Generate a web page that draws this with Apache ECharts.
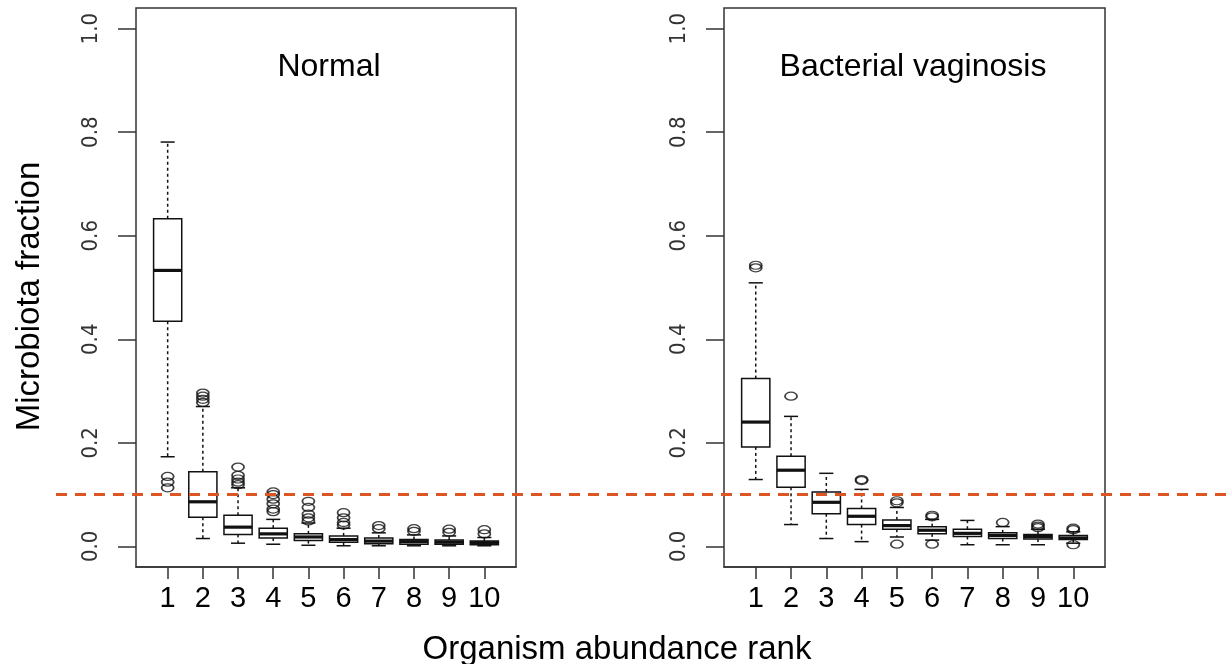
<!DOCTYPE html>
<html><head><meta charset="utf-8">
<script src="https://cdn.jsdelivr.net/npm/echarts@6/dist/echarts.min.js"></script>
<style>html,body{margin:0;padding:0;background:#fff}#c{width:1226px;height:664px}</style>
</head><body><div id="c"></div>
<script>
const ranks = [1, 2, 3, 4, 5, 6, 7, 8, 9, 10];
const yTicks = [0, 0.2, 0.4, 0.6, 0.8, 1.0];
const threshold = 0.1;

// Normal
const normalLow  = [0.173, 0.015, 0.006, 0.004, 0.002, 0.001, 0.001, 0.001, 0.001, 0.001];
const normalQ1   = [0.435, 0.056, 0.023, 0.016, 0.011, 0.008, 0.005, 0.004, 0.004, 0.003];
const normalMed  = [0.533, 0.086, 0.037, 0.024, 0.018, 0.013, 0.010, 0.009, 0.008, 0.007];
const normalQ3   = [0.633, 0.144, 0.060, 0.035, 0.024, 0.020, 0.016, 0.013, 0.012, 0.010];
const normalHigh = [0.781, 0.270, 0.113, 0.052, 0.045, 0.035, 0.026, 0.022, 0.020, 0.017];
const normalOutliers = [
  [1, 0.135], [1, 0.124], [1, 0.113],
  [2, 0.296], [2, 0.290], [2, 0.284], [2, 0.278],
  [3, 0.153], [3, 0.137], [3, 0.130], [3, 0.124], [3, 0.119],
  [4, 0.105], [4, 0.100], [4, 0.091], [4, 0.082], [4, 0.072], [4, 0.067],
  [5, 0.087], [5, 0.075], [5, 0.062], [5, 0.055], [5, 0.049],
  [6, 0.065], [6, 0.055], [6, 0.046], [6, 0.041],
  [7, 0.040], [7, 0.034],
  [8, 0.034], [8, 0.029],
  [9, 0.033], [9, 0.027],
  [10, 0.032], [10, 0.024]
];

// Bacterial vaginosis
const bvLow  = [0.129, 0.042, 0.015, 0.009, 0.018, 0.012, 0.003, 0.003, 0.003, 0.006];
const bvQ1   = [0.192, 0.114, 0.063, 0.042, 0.033, 0.024, 0.019, 0.015, 0.014, 0.013];
const bvMed  = [0.240, 0.147, 0.085, 0.058, 0.040, 0.031, 0.025, 0.021, 0.019, 0.016];
const bvQ3   = [0.324, 0.174, 0.105, 0.073, 0.051, 0.038, 0.033, 0.026, 0.023, 0.021];
const bvHigh = [0.509, 0.251, 0.141, 0.110, 0.075, 0.052, 0.050, 0.038, 0.033, 0.028];
const bvOutliers = [
  [1, 0.543], [1, 0.538],
  [2, 0.290],
  [4, 0.129], [4, 0.127],
  [5, 0.088], [5, 0.084], [5, 0.004],
  [6, 0.060], [6, 0.057], [6, 0.004],
  [8, 0.046],
  [9, 0.043], [9, 0.039], [9, 0.036],
  [10, 0.035], [10, 0.032], [10, 0.003]
];

const FONT = "'Liberation Sans', Arial, Helvetica, sans-serif";
const INK = '#111';

function boxData(lo, q1, med, q3, hi) {
  return ranks.map((r, i) => [r, lo[i], q1[i], med[i], q3[i], hi[i]]);
}

function renderBox(params, api) {
  const x = api.value(0);
  const pLow = api.coord([x, api.value(1)]);
  const pQ1 = api.coord([x, api.value(2)]);
  const pMed = api.coord([x, api.value(3)]);
  const pQ3 = api.coord([x, api.value(4)]);
  const pHigh = api.coord([x, api.value(5)]);
  const bw = api.size([0.8, 0])[0];
  const hw = bw / 2, cw = bw / 4;
  const cx = pMed[0];
  const thin = { stroke: INK, lineWidth: 1.5 };
  const dotted = { stroke: INK, lineWidth: 1.5, lineDash: [3, 3] };
  return {
    type: 'group',
    children: [
      { type: 'line', shape: { x1: cx, y1: pQ3[1], x2: cx, y2: pHigh[1] }, style: dotted },
      { type: 'line', shape: { x1: cx, y1: pQ1[1], x2: cx, y2: pLow[1] }, style: dotted },
      { type: 'line', shape: { x1: cx - cw, y1: pHigh[1], x2: cx + cw, y2: pHigh[1] }, style: thin },
      { type: 'line', shape: { x1: cx - cw, y1: pLow[1], x2: cx + cw, y2: pLow[1] }, style: thin },
      { type: 'rect', shape: { x: cx - hw, y: pQ3[1], width: bw, height: pQ1[1] - pQ3[1] },
        style: { fill: '#fff', stroke: INK, lineWidth: 1.5 } },
      { type: 'line', shape: { x1: cx - hw, y1: pMed[1], x2: cx + hw, y2: pMed[1] },
        style: { stroke: INK, lineWidth: 3.2 } }
    ]
  };
}

function xAxisCfg(idx) {
  return {
    type: 'value', gridIndex: idx, min: 0.1, max: 10.9, position: 'bottom',
    axisLine: { show: true, onZero: false, lineStyle: { color: '#333', width: 1.5 } },
    splitLine: { show: false },
    axisTick: { show: true, inside: false, customValues: ranks, length: 12, lineStyle: { color: '#333', width: 1.5 } },
    axisLabel: { show: true, customValues: ranks, margin: 17, fontSize: 29, color: '#000', fontFamily: FONT }
  };
}
function yAxisCfg(idx, name) {
  return {
    type: 'value', gridIndex: idx, min: -0.04, max: 1.04,
    name: name, nameLocation: 'middle', nameGap: 90, nameRotate: 90,
    nameTextStyle: { fontSize: 33, color: '#000', fontFamily: FONT, padding: [0, 18, 0, 0] },
    axisLine: { show: false, onZero: false },
    splitLine: { show: false },
    axisTick: { show: true, customValues: yTicks, length: 18, lineStyle: { color: '#333', width: 1.5 } },
    axisLabel: { show: true, customValues: yTicks, rotate: 90, margin: 34, fontSize: 22, color: '#333',
      fontFamily: "'Liberation Sans Narrow', 'DejaVu Sans Condensed', " + FONT,
      formatter: v => v.toFixed(1) }
  };
}

const chart = echarts.init(document.getElementById('c'));
chart.setOption({
  animation: false,
  backgroundColor: '#fff',
  title: [
    { text: 'Normal', left: 324, top: 46, textAlign: 'center',
      textStyle: { fontSize: 32, fontWeight: 'normal', color: '#000', fontFamily: FONT } },
    { text: 'Bacterial vaginosis', left: 908, top: 46, textAlign: 'center',
      textStyle: { fontSize: 32, fontWeight: 'normal', color: '#000', fontFamily: FONT } },
    { text: 'Organism abundance rank', left: 612, top: 628, textAlign: 'center',
      textStyle: { fontSize: 33, fontWeight: 'normal', color: '#000', fontFamily: FONT } }
  ],
  grid: [
    { left: 136, width: 380, top: 8, height: 559, show: true, borderColor: '#333', borderWidth: 1.5, backgroundColor: 'transparent' },
    { left: 724, width: 381, top: 8, height: 559, show: true, borderColor: '#333', borderWidth: 1.5, backgroundColor: 'transparent' },
    { left: 56, right: 0, top: 8, height: 559, show: false }
  ],
  xAxis: [
    xAxisCfg(0), xAxisCfg(1),
    { type: 'value', gridIndex: 2, min: 0, max: 1, show: false }
  ],
  yAxis: [
    yAxisCfg(0, 'Microbiota fraction'), yAxisCfg(1, ''),
    { type: 'value', gridIndex: 2, min: -0.04, max: 1.04, show: false }
  ],
  series: [
    { type: 'custom', xAxisIndex: 0, yAxisIndex: 0, renderItem: renderBox,
      data: boxData(normalLow, normalQ1, normalMed, normalQ3, normalHigh),
      encode: { x: 0, y: [1, 2, 3, 4, 5] }, z: 2 },
    { type: 'custom', xAxisIndex: 1, yAxisIndex: 1, renderItem: renderBox,
      data: boxData(bvLow, bvQ1, bvMed, bvQ3, bvHigh),
      encode: { x: 0, y: [1, 2, 3, 4, 5] }, z: 2 },
    { type: 'scatter', xAxisIndex: 0, yAxisIndex: 0, data: normalOutliers, symbol: 'circle', symbolSize: [12, 8],
      itemStyle: { color: 'rgba(255,255,255,0)', borderColor: INK, borderWidth: 1.5 }, z: 3 },
    { type: 'scatter', xAxisIndex: 1, yAxisIndex: 1, data: bvOutliers, symbol: 'circle', symbolSize: [12, 8],
      itemStyle: { color: 'rgba(255,255,255,0)', borderColor: INK, borderWidth: 1.5 }, z: 3 },
    { type: 'line', xAxisIndex: 2, yAxisIndex: 2, data: [[0, threshold], [1, threshold]],
      symbol: 'none', lineStyle: { color: '#dd5522', width: 3, type: [11, 8] }, z: 10, silent: true }
  ]
});
</script>
</body></html>
